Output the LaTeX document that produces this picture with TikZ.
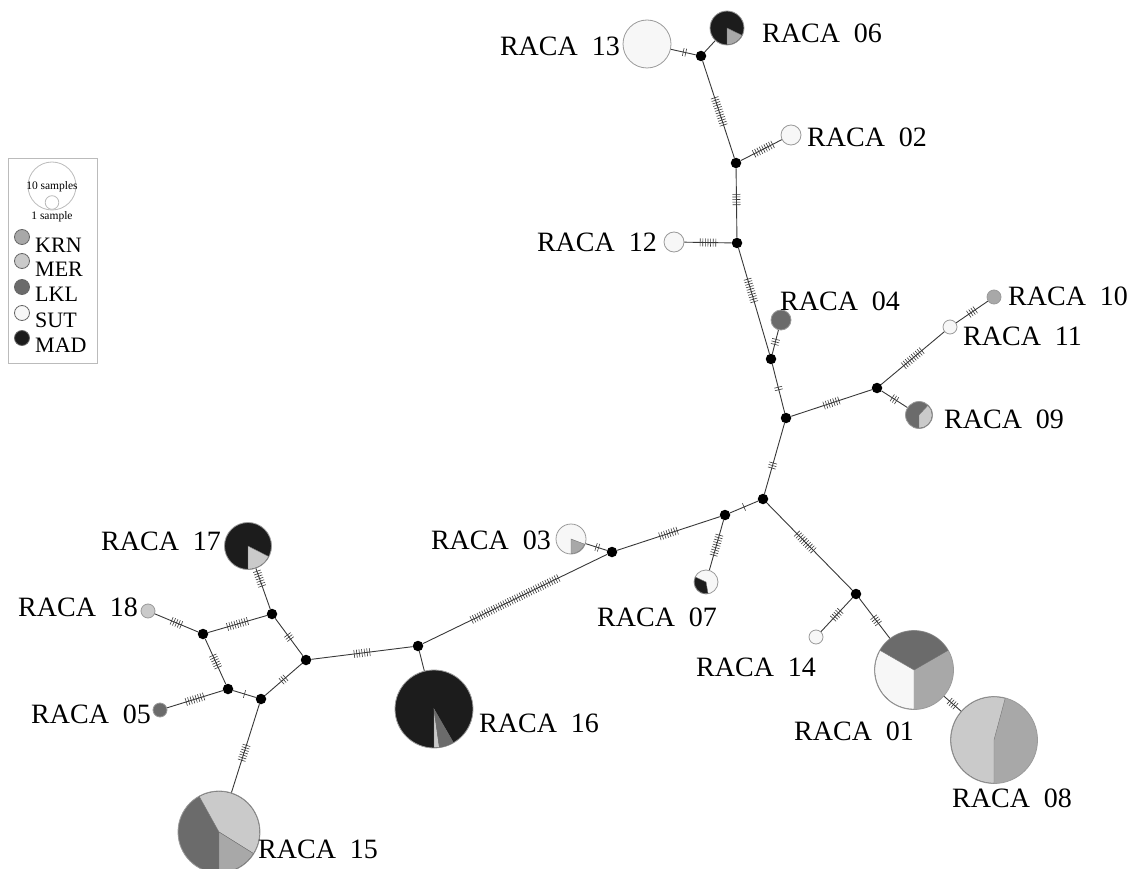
\documentclass[tikz,border=0pt]{standalone}
\usepackage{fontspec}
\setmainfont{Liberation Serif}
\usetikzlibrary{decorations.markings}
\definecolor{krn}{HTML}{A8A8A8}
\definecolor{mer}{HTML}{CACACA}
\definecolor{lkl}{HTML}{6B6B6B}
\definecolor{sut}{HTML}{F7F7F7}
\definecolor{mad}{HTML}{1C1C1C}
\definecolor{outl}{HTML}{9A9A9A}
\definecolor{edgecol}{HTML}{383838}
\definecolor{boxcol}{HTML}{BBBBBB}
\newcommand{\pieslice}[5]{\filldraw[fill=#5, draw=black!55, line width=0.4pt] (#1.center) -- ++(#3:#2) arc[start angle=#3, end angle=#4, radius=#2] -- cycle;}
\tikzset{
  hap/.style={circle, draw=outl, line width=0.8pt, inner sep=0, minimum size=#1},
  med/.style={circle, fill=black, inner sep=0, minimum size=10.5},
  edge/.style={draw=edgecol, line width=0.9pt},
  tickline/.style={draw=edgecol, line width=0.6pt},
  hashes/.style 2 args={postaction={decorate, decoration={markings,
    mark=at position #1 with {\foreach \k in {1,...,#2}{\draw[tickline] ({(\k-(#2+1)/2)*2.6},-4) -- ({(\k-(#2+1)/2)*2.6},4);}}}}},
  lab/.style={inner sep=0, font=\fontsize{28}{30}\selectfont},
  leglab/.style={inner sep=0, anchor=west, font=\fontsize{22}{24}\selectfont},
  smalllab/.style={inner sep=0, font=\fontsize{11.5}{13}\selectfont},
}
\begin{document}
\begin{tikzpicture}[x=1pt, y=-1pt]
\useasboundingbox (0,0) rectangle (1130,869);

% legend
\node[draw=boxcol, line width=0.8pt, minimum width=89, minimum height=205, inner sep=0] (legend) at (52.5,260.5) {};
\node[hap=48, fill=white, draw=boxcol] (leg10) at (52,186) {};
\node[hap=13.6, fill=white, draw=boxcol] (leg1) at (52,202.5) {};
\node[smalllab] (t10) at (52,187) {10 samples};
\node[smalllab] (t1) at (52,217) {1 sample};
\node[hap=15, fill=krn, draw=black!60] (lk) at (22,237) {};
\node[hap=15, fill=mer, draw=black!60] (lm) at (22,261) {};
\node[hap=15, fill=lkl, draw=black!60] (ll) at (22,287) {};
\node[hap=15, fill=sut, draw=black!60] (ls) at (22,313) {};
\node[hap=15, fill=mad, draw=black!60] (lmd) at (22,338) {};
\node[leglab] (tk) at (35,245) {KRN};
\node[leglab] (tm) at (35,269) {MER};
\node[leglab] (tl) at (35,294.5) {LKL};
\node[leglab] (ts) at (35,320) {SUT};
\node[leglab] (tmd) at (35,345.5) {MAD};

% median vectors
\node[med] (m1) at (701,56) {};
\node[med] (m2) at (736,163) {};
\node[med] (m3) at (737,243) {};
\node[med] (m4) at (771,359) {};
\node[med] (m5) at (786,418) {};
\node[med] (m6) at (877,388) {};
\node[med] (m7) at (763,499) {};
\node[med] (m8) at (725,515) {};
\node[med] (m9) at (612,552) {};
\node[med] (m10) at (856,594) {};
\node[med] (m11) at (418,646) {};
\node[med] (m12) at (306,660) {};
\node[med] (m13) at (272,614) {};
\node[med] (m14) at (203,634) {};
\node[med] (m15) at (228,689) {};
\node[med] (m16) at (261,699) {};

% haplotypes
\node[hap=48, fill=sut] (r13) at (647,44) {};
\node[hap=34, fill=mad] (r06) at (727,28) {};
\pieslice{r06}{16.6}{90}{26}{krn}
\node[hap=20, fill=sut] (r02) at (791,135) {};
\node[hap=20, fill=sut] (r12) at (674,242) {};
\node[hap=20, fill=lkl] (r04) at (781,320) {};
\node[hap=14, fill=krn] (r10) at (994,297) {};
\node[hap=14, fill=sut] (r11) at (950,327) {};
\node[hap=27, fill=lkl] (r09) at (919,415) {};
\pieslice{r09}{13.1}{90}{-47}{mer}
\node[hap=30, fill=sut] (r03) at (571,539) {};
\pieslice{r03}{14.6}{90}{21}{krn}
\node[hap=24, fill=sut] (r07) at (706,582) {};
\pieslice{r07}{11.6}{-155}{-280}{mad}
\node[hap=14, fill=sut] (r14) at (816,637) {};
\node[hap=79, fill=krn] (r01) at (914,670) {};
\pieslice{r01}{39.1}{-30}{-150}{lkl}
\pieslice{r01}{39.1}{-150}{-270}{sut}
\node[hap=87, fill=krn] (r08) at (994,740) {};
\pieslice{r08}{43.1}{-75}{-270}{mer}
\node[hap=78, fill=mad] (r16) at (434,709) {};
\pieslice{r16}{38.6}{90}{82}{mer}
\pieslice{r16}{38.6}{82}{60}{lkl}
\node[hap=47, fill=mad] (r17) at (248,546) {};
\pieslice{r17}{23.1}{90}{27}{mer}
\node[hap=14, fill=mer] (r18) at (148,611) {};
\node[hap=14, fill=lkl] (r05) at (160,710) {};
\node[hap=82, fill=lkl] (r15) at (219,832) {};
\pieslice{r15}{40.6}{32}{-119}{mer}
\pieslice{r15}{40.6}{90}{32}{krn}

% connectors
\draw[edge] (m1) -- (r06);
\draw[edge] (m11) -- (r16);
\foreach \a/\b/\p/\n in {
  m1/r13/0.45/2, m1/m2/0.52/12, m2/r02/0.55/9, m2/m3/0.45/5, m3/r12/0.5/7,
  m3/m4/0.4/10, m4/r04/0.5/3, m4/m5/0.5/2, m5/m6/0.5/7, m6/r11/0.5/10,
  r11/r10/0.5/4, m6/r09/0.5/3, m5/m7/0.6/3, m7/m8/0.5/1, m7/m10/0.45/10,
  m10/r14/0.5/5, m10/r01/0.55/4, r01/r08/0.5/4, m8/m9/0.5/8, m8/r07/0.5/9,
  m9/r03/0.45/2, m9/m11/0.5/38, m11/m12/0.5/7, m12/m13/0.5/3, m12/m16/0.5/3,
  m13/r17/0.75/7, m13/m14/0.5/9, m14/r18/0.5/5, m14/m15/0.5/6, m15/r05/0.5/8,
  m15/m16/0.5/1, m16/r15/0.55/7}
  \draw[edge, hashes={\p}{\n}] (\a) -- (\b);

% labels
\node[lab, anchor=east] (l13) at (620,46) {RACA\ \ 13};
\node[lab, anchor=west] (l06) at (762,33) {RACA\ \ 06};
\node[lab, anchor=west] (l02) at (807,137) {RACA\ \ 02};
\node[lab, anchor=east] (l12) at (657,242) {RACA\ \ 12};
\node[lab, anchor=west] (l04) at (780,301) {RACA\ \ 04};
\node[lab, anchor=west] (l10) at (1008,296) {RACA\ \ 10};
\node[lab, anchor=west] (l11) at (963,336) {RACA\ \ 11};
\node[lab, anchor=west] (l09) at (944,419) {RACA\ \ 09};
\node[lab, anchor=east] (l03) at (551,540) {RACA\ \ 03};
\node[lab, anchor=west] (l07) at (597,617) {RACA\ \ 07};
\node[lab, anchor=west] (l14) at (696,667) {RACA\ \ 14};
\node[lab, anchor=west] (l01) at (794,731) {RACA\ \ 01};
\node[lab, anchor=west] (l08) at (952,798) {RACA\ \ 08};
\node[lab, anchor=west] (l16) at (479,723) {RACA\ \ 16};
\node[lab, anchor=west] (l17) at (101,541) {RACA\ \ 17};
\node[lab, anchor=west] (l18) at (18,607) {RACA\ \ 18};
\node[lab, anchor=west] (l05) at (31,714) {RACA\ \ 05};
\node[lab, anchor=west] (l15) at (258,849) {RACA\ \ 15};
\end{tikzpicture}
\end{document}
